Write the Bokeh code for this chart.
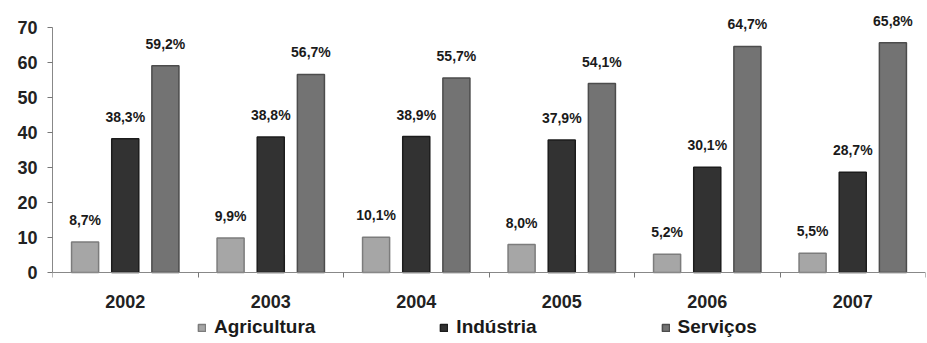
from bokeh.plotting import figure
from bokeh.models import ColumnDataSource, FixedTicker, Legend, LegendItem, Range1d
from bokeh.core.properties import value
from bokeh.embed import file_html
from bokeh.resources import INLINE

years = ["2002", "2003", "2004", "2005", "2006", "2007"]
series_names = ["Agricultura", "Indústria", "Serviços"]
agricultura = [8.7, 9.9, 10.1, 8.0, 5.2, 5.5]
industria = [38.3, 38.8, 38.9, 37.9, 30.1, 28.7]
servicos = [59.2, 56.7, 55.7, 54.1, 64.7, 65.8]
y_ticks = [0, 10, 20, 30, 40, 50, 60, 70]

series_values = [agricultura, industria, servicos]
fills = ["#a6a6a6", "#323232", "#737373"]
edges = ["#7c7c7c", "#1c1c1c", "#4c4c4c"]
offsets = [-0.276, 0.0, 0.276]
bar_w = 0.186

y_top = 75
y_bottom = -y_top * 71 / 262

p = figure(width=927, height=343, output_backend="svg", toolbar_location=None,
           x_range=Range1d(0, len(years)), y_range=Range1d(y_bottom, y_top),
           min_border_left=52, min_border_right=2, min_border_top=10, min_border_bottom=0)
p.outline_line_color = None
p.grid.visible = False
p.background_fill_color = "white"

items = []
for name, vals, fc, ec, off in zip(series_names, series_values, fills, edges, offsets):
    xs = [i + 0.5 + off for i in range(len(years))]
    labels = [("%.1f" % v).replace(".", ",") + "%" for v in vals]
    src = ColumnDataSource(dict(x=xs, top=vals, label=labels))
    r = p.vbar(x="x", top="top", width=bar_w, bottom=0, source=src,
               fill_color=fc, line_color=ec, line_width=1.5)
    p.text(x="x", y="top", text="label", source=src, text_align="center",
           text_baseline="bottom", y_offset=-14, text_font=value("Liberation Sans"),
           text_font_style="bold", text_font_size="14px", text_color="#1a1a1a")
    items.append(LegendItem(label=name, renderers=[r]))

xa = p.xaxis[0]
xa.fixed_location = 0
xa.ticker = FixedTicker(ticks=[i + 0.5 for i in range(len(years))],
                        minor_ticks=list(range(len(years) + 1)))
xa.major_label_overrides = {i + 0.5: y for i, y in enumerate(years)}
xa.major_tick_out = 0
xa.major_tick_in = 0
xa.minor_tick_out = 5
xa.minor_tick_in = 0
xa.minor_tick_line_color = "#777777"
xa.axis_line_color = "#888888"
xa.major_label_text_font = "Liberation Sans"
xa.major_label_text_font_style = "bold"
xa.major_label_text_font_size = "18px"
xa.major_label_text_color = "#222222"
xa.major_label_standoff = 17

ya = p.yaxis[0]
ya.bounds = (0, 70)
ya.ticker = FixedTicker(ticks=y_ticks)
ya.minor_tick_line_color = None
ya.major_tick_out = 5
ya.major_tick_in = 0
ya.major_tick_line_color = "#777777"
ya.axis_line_color = "#888888"
ya.major_label_text_font = "Liberation Sans"
ya.major_label_text_font_style = "bold"
ya.major_label_text_font_size = "18px"
ya.major_label_text_color = "#222222"
ya.major_label_standoff = 10

legend = Legend(items=items, orientation="horizontal", location=(145, 5),
                label_text_font="Liberation Sans", label_text_font_style="bold",
                label_text_font_size="19px", label_text_color="#1a1a1a",
                glyph_width=9, glyph_height=9, label_standoff=8, spacing=124,
                padding=0, margin=0, border_line_color=None, background_fill_alpha=0)
p.add_layout(legend)

open("out.html", "w").write(file_html(p, INLINE))
